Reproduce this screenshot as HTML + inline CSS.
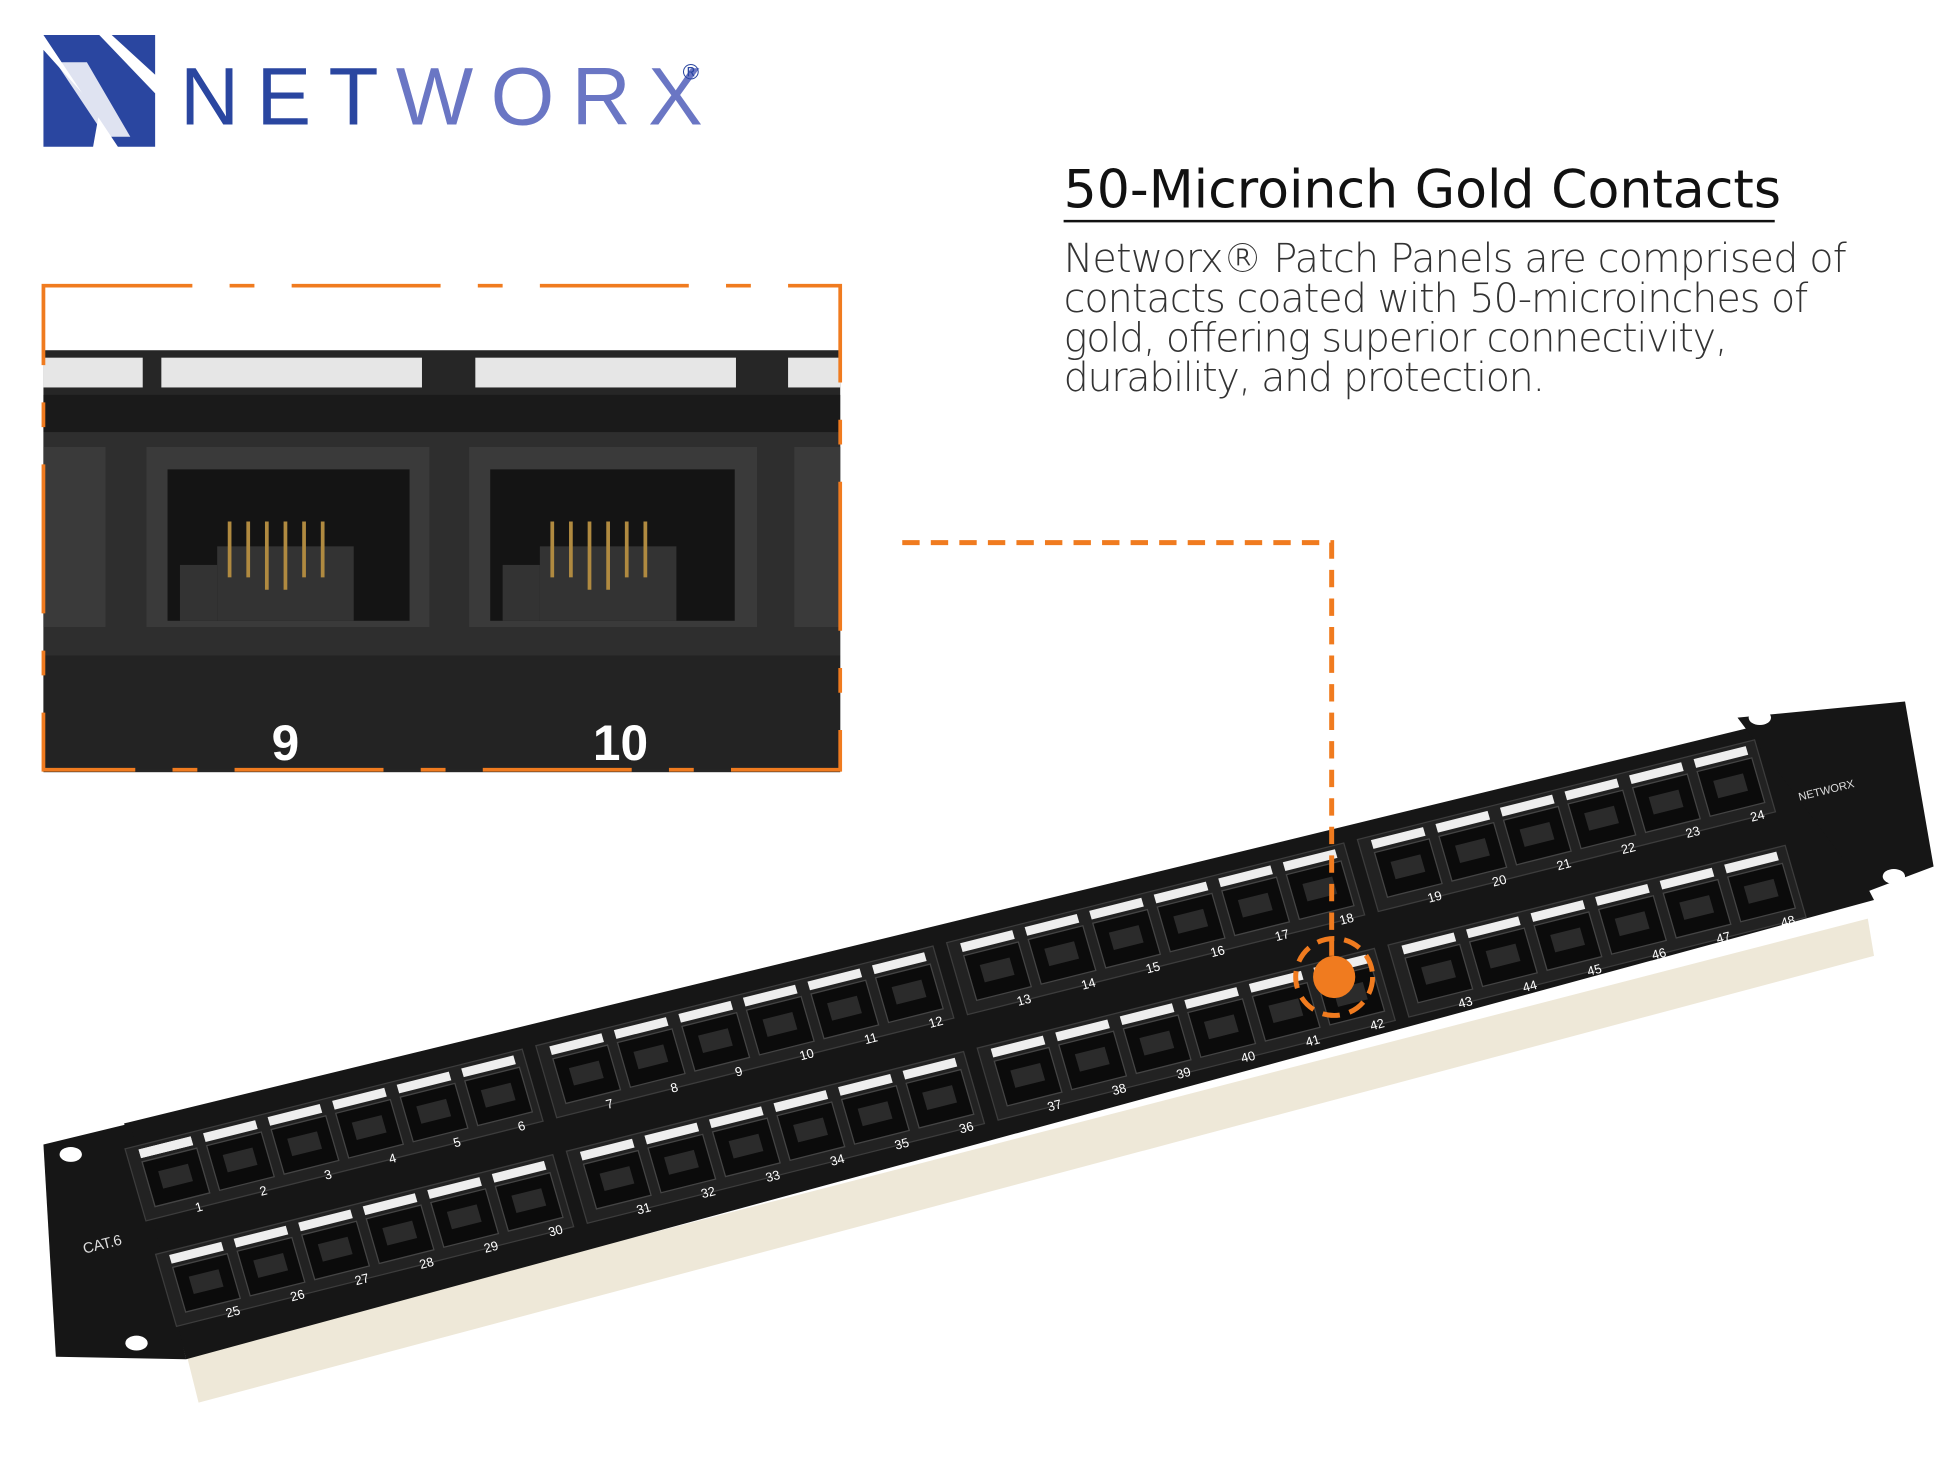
<!DOCTYPE html>
<html><head><meta charset="utf-8"><style>
html,body{margin:0;padding:0;background:#fff;}
svg{display:block;}
</style></head><body>
<svg width="1946" height="1460" viewBox="0 0 1568 1176" xmlns="http://www.w3.org/2000/svg">
<rect width="1568" height="1176" fill="#ffffff"/>
<!-- Logo -->
<polygon points="35,28 80,28 125,75 125,118 95,118" fill="#2a46a0"/>
<polygon points="35,40 35,118 75,118 80,90" fill="#2a46a0"/>
<polygon points="90,28 125,28 125,60" fill="#2a46a0"/>
<polygon points="45,50 70,50 105,110 85,110" fill="#ffffff" opacity="0.85"/>
<text x="145" y="100" font-family="Liberation Sans, sans-serif" font-size="66" letter-spacing="14" fill="#2a46a0">NET<tspan fill="#6a76c4">WORX</tspan></text>
<text x="550" y="64" font-family="Liberation Sans, sans-serif" font-size="18" fill="#2a46a0">®</text>

<!-- Heading -->
<text x="857" y="167" font-family="DejaVu Sans, Liberation Sans, sans-serif" font-size="42" fill="#111">50-Microinch Gold Contacts</text>
<line x1="857" y1="178" x2="1430" y2="178" stroke="#111" stroke-width="2"/>
<g font-family="DejaVu Sans, Liberation Sans, sans-serif" font-size="32" fill="#333" font-weight="300">
<text x="857" y="219" textLength="631">Networx® Patch Panels are comprised of</text>
<text x="857" y="251" textLength="600">contacts coated with 50-microinches of</text>
<text x="857" y="283" textLength="535">gold, offering superior connectivity,</text>
<text x="857" y="315" textLength="388">durability, and protection.</text>
</g>

<!-- Inset -->
<rect x="35" y="230" width="642" height="390" fill="#ffffff"/>
<rect x="35" y="282" width="642" height="340" fill="#262626"/>
<rect x="130" y="288" width="210" height="24" fill="#e6e6e6"/>
<rect x="383" y="288" width="210" height="24" fill="#e6e6e6"/>
<rect x="35" y="288" width="80" height="24" fill="#e6e6e6"/>
<rect x="635" y="288" width="42" height="24" fill="#e6e6e6"/>
<rect x="35" y="318" width="642" height="30" fill="#1a1a1a"/>
<rect x="35" y="348" width="642" height="180" fill="#2e2e2e"/>
<g>
<rect x="118" y="360" width="228" height="145" fill="#3a3a3a"/>
<rect x="135" y="378" width="195" height="122" fill="#141414"/>
<rect x="175" y="440" width="110" height="60" fill="#333"/>
<rect x="145" y="455" width="30" height="45" fill="#333"/>
<g stroke="#b08a40" stroke-width="3"><line x1="185" y1="420" x2="185" y2="465"/><line x1="200" y1="420" x2="200" y2="465"/><line x1="215" y1="420" x2="215" y2="475"/><line x1="230" y1="420" x2="230" y2="475"/><line x1="245" y1="420" x2="245" y2="465"/><line x1="260" y1="420" x2="260" y2="465"/></g>
<rect x="378" y="360" width="232" height="145" fill="#3a3a3a"/>
<rect x="395" y="378" width="197" height="122" fill="#141414"/>
<rect x="435" y="440" width="110" height="60" fill="#333"/>
<rect x="405" y="455" width="30" height="45" fill="#333"/>
<g stroke="#b08a40" stroke-width="3"><line x1="445" y1="420" x2="445" y2="465"/><line x1="460" y1="420" x2="460" y2="465"/><line x1="475" y1="420" x2="475" y2="475"/><line x1="490" y1="420" x2="490" y2="475"/><line x1="505" y1="420" x2="505" y2="465"/><line x1="520" y1="420" x2="520" y2="465"/></g>
<rect x="35" y="360" width="50" height="145" fill="#3a3a3a"/>
<rect x="640" y="360" width="37" height="145" fill="#3a3a3a"/>
</g>
<rect x="35" y="528" width="642" height="92" fill="#232323"/>
<text x="230" y="612" text-anchor="middle" font-family="Liberation Sans, sans-serif" font-weight="bold" font-size="40" fill="#fff">9</text>
<text x="500" y="612" text-anchor="middle" font-family="Liberation Sans, sans-serif" font-weight="bold" font-size="40" fill="#fff">10</text>
<rect x="35" y="230" width="642" height="390" fill="none" stroke="#f07b1f" stroke-width="3" stroke-dasharray="120,30,20,30"/>

<!-- Panel -->
<polygon points="150,1090 1505,740 1510,770 160,1130" fill="#eee8d8"/>
<polygon points="100,905 1435,580 1510,725 150,1095" fill="#161616"/>
<polygon points="35,922 105,905 150,1095 45,1093" fill="#161616"/>
<polygon points="1400,578 1535,565 1558,698 1505,718" fill="#161616"/>
<ellipse cx="57" cy="930" rx="9" ry="6" fill="#fff"/>
<ellipse cx="110" cy="1082" rx="9" ry="6" fill="#fff"/>
<ellipse cx="1418" cy="578" rx="9" ry="6" fill="#fff"/>
<ellipse cx="1526" cy="706" rx="9" ry="6" fill="#fff"/>
<text x="68" y="1010" font-family="Liberation Sans, sans-serif" font-size="12" fill="#ddd" transform="rotate(-14 68 1010)">CAT.6</text>
<text x="1450" y="645" font-family="Liberation Sans, sans-serif" font-size="9" fill="#ddd" transform="rotate(-14 1450 645)">NETWORX</text>

<g transform="matrix(1,-0.251,0.29,1,118,948)" font-family="Liberation Sans, sans-serif" font-size="10" fill="#fff">
<g id="grp">
<rect x="-10" y="-25" width="320" height="58" fill="#222" stroke="#3c3c3c"/>
</g>
<use href="#grp" x="331"/><use href="#grp" x="662"/><use href="#grp" x="993"/>
<use href="#grp" y="85"/><use href="#grp" x="331" y="85"/><use href="#grp" x="662" y="85"/><use href="#grp" x="993" y="85"/>
<g id="port">
<rect x="0" y="-22" width="42" height="7" fill="#eee"/>
<rect x="0" y="-12" width="44" height="36" fill="#0b0b0b" stroke="#444"/>
<rect x="10" y="-2" width="24" height="14" fill="#2b2b2b"/>
</g>
<g id="row6"><use href="#port"/><use href="#port" x="52"/><use href="#port" x="104"/><use href="#port" x="156"/><use href="#port" x="208"/><use href="#port" x="260"/></g>
<use href="#row6" x="331"/><use href="#row6" x="662"/><use href="#row6" x="993"/>
<use href="#row6" y="85"/><use href="#row6" x="331" y="85"/><use href="#row6" x="662" y="85"/><use href="#row6" x="993" y="85"/>
<g>
<text x="30" y="36">1</text><text x="82" y="36">2</text><text x="134" y="36">3</text><text x="186" y="36">4</text><text x="238" y="36">5</text><text x="290" y="36">6</text>
<text x="361" y="36">7</text><text x="413" y="36">8</text><text x="465" y="36">9</text><text x="517" y="36">10</text><text x="569" y="36">11</text><text x="621" y="36">12</text>
<text x="692" y="36">13</text><text x="744" y="36">14</text><text x="796" y="36">15</text><text x="848" y="36">16</text><text x="900" y="36">17</text><text x="952" y="36">18</text>
<text x="1023" y="36">19</text><text x="1075" y="36">20</text><text x="1127" y="36">21</text><text x="1179" y="36">22</text><text x="1231" y="36">23</text><text x="1283" y="36">24</text>
<text x="30" y="121">25</text><text x="82" y="121">26</text><text x="134" y="121">27</text><text x="186" y="121">28</text><text x="238" y="121">29</text><text x="290" y="121">30</text>
<text x="361" y="121">31</text><text x="413" y="121">32</text><text x="465" y="121">33</text><text x="517" y="121">34</text><text x="569" y="121">35</text><text x="621" y="121">36</text>
<text x="692" y="121">37</text><text x="744" y="121">38</text><text x="796" y="121">39</text><text x="848" y="121">40</text><text x="900" y="121">41</text><text x="952" y="121">42</text>
<text x="1023" y="121">43</text><text x="1075" y="121">44</text><text x="1127" y="121">45</text><text x="1179" y="121">46</text><text x="1231" y="121">47</text><text x="1283" y="121">48</text>
</g>
</g>

<!-- connector -->
<polyline points="727,437 1073,437 1073,770" fill="none" stroke="#f07b1f" stroke-width="4" stroke-dasharray="14,9"/>
<circle cx="1075" cy="787" r="31" fill="none" stroke="#f07b1f" stroke-width="4" stroke-dasharray="14,8"/>
<circle cx="1075" cy="787" r="17" fill="#f07b1f"/>
</svg>
</body></html>
